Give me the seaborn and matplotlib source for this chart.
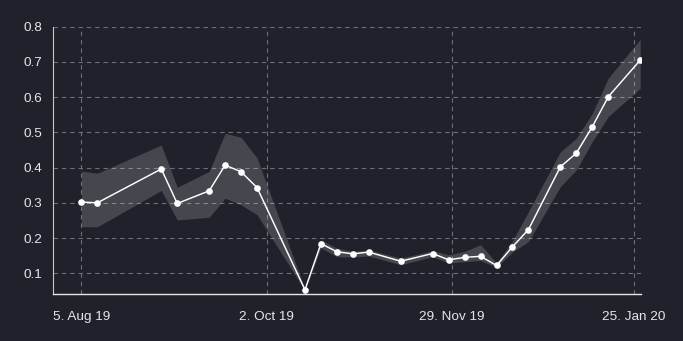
import matplotlib
matplotlib.use("Agg")
import matplotlib.pyplot as plt
import numpy as np
import pandas as pd
import seaborn as sns

# Observation dates (5-day sampling with gaps)
dates = pd.to_datetime([
    "2019-08-05", "2019-08-10", "2019-08-30", "2019-09-04", "2019-09-14",
    "2019-09-19", "2019-09-24", "2019-09-29", "2019-10-14", "2019-10-19",
    "2019-10-24", "2019-10-29", "2019-11-03", "2019-11-13", "2019-11-23",
    "2019-11-28", "2019-12-03", "2019-12-08", "2019-12-13", "2019-12-18",
    "2019-12-23", "2020-01-02", "2020-01-07", "2020-01-12", "2020-01-17",
    "2020-01-27",
])
mean_values = [
    0.302, 0.300, 0.396, 0.298, 0.334, 0.407, 0.388, 0.343, 0.053, 0.184,
    0.161, 0.155, 0.160, 0.134, 0.156, 0.138, 0.145, 0.148, 0.122, 0.175,
    0.224, 0.402, 0.441, 0.516, 0.601, 0.705,
]
lower_values = [
    0.232, 0.232, 0.335, 0.251, 0.259, 0.313, 0.294, 0.266, 0.051, 0.172,
    0.147, 0.146, 0.149, 0.124, 0.147, 0.129, 0.133, 0.136, 0.117, 0.160,
    0.190, 0.346, 0.393, 0.474, 0.545, 0.625,
]
upper_values = [
    0.390, 0.384, 0.464, 0.344, 0.389, 0.497, 0.486, 0.427, 0.055, 0.195,
    0.171, 0.162, 0.166, 0.143, 0.164, 0.152, 0.162, 0.181, 0.129, 0.192,
    0.275, 0.445, 0.483, 0.554, 0.654, 0.764,
]
tick_dates = pd.to_datetime(["2019-08-05", "2019-10-02", "2019-11-29", "2020-01-25"])
tick_labels = ["5. Aug 19", "2. Oct 19", "29. Nov 19", "25. Jan 20"]
y_ticks = [0.1, 0.2, 0.3, 0.4, 0.5, 0.6, 0.7, 0.8]

df = pd.DataFrame({"date": dates, "mean": mean_values,
                   "low": lower_values, "high": upper_values})

bg = "#21212b"
text_color = "#e6e6e9"
grid_color = "#6e6e74"

sns.set_theme(style="dark")
plt.rcParams["font.family"] = ["Liberation Sans", "DejaVu Sans"]

fig = plt.figure(figsize=(6.83, 3.41), dpi=100, facecolor=bg)
ax = fig.add_axes([53 / 683, 1 - 294 / 341, (641 - 53) / 683, (294 - 26.7) / 341])
ax.set_facecolor(bg)

# confidence band around the mean
ax.fill_between(df["date"], df["low"], df["high"], color="#ffffff",
                alpha=0.17, linewidth=0, zorder=2)
sns.lineplot(data=df, x="date", y="mean", ax=ax, color="white", linewidth=1.05,
             marker="o", markersize=4.8, markeredgewidth=0, zorder=4)

ax.set_xlim(pd.Timestamp("2019-07-27 02:00"), pd.Timestamp("2020-01-27 06:00"))
ax.set_ylim(0.041, 0.8)
ax.set_xticks(tick_dates)
ax.set_xticklabels(tick_labels)
ax.set_yticks(y_ticks)
ax.set_yticklabels([f"{v:.1f}" for v in y_ticks])
ax.set_xlabel("")
ax.set_ylabel("")

ax.grid(True, axis="both", color=grid_color, linestyle=(0, (4, 3.5)),
        linewidth=0.8, zorder=1)
ax.tick_params(axis="both", length=0, colors=text_color, labelsize=9.7)
ax.tick_params(axis="y", pad=8)
ax.tick_params(axis="x", pad=12)

for side in ["top", "right"]:
    ax.spines[side].set_visible(False)
ax.spines["left"].set_color("#c8c8cc")
ax.spines["left"].set_linewidth(0.8)
ax.spines["bottom"].set_color("#e6e6e6")
ax.spines["bottom"].set_linewidth(1.0)

fig.savefig("out.png", dpi=100, facecolor=bg)
